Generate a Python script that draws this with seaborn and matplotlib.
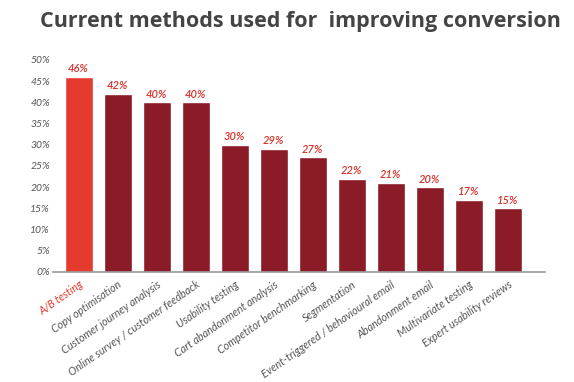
import matplotlib
matplotlib.use("Agg")
import matplotlib.pyplot as plt
import seaborn as sns
import pandas as pd

categories = ["A/B testing", "Copy optimisation", "Customer journey analysis",
              "Online survey / customer feedback", "Usability testing",
              "Cart abandonment analysis", "Competitor benchmarking", "Segmentation",
              "Event-triggered / behavioural email", "Abandonment email",
              "Multivariate testing", "Expert usability reviews"]
values = [46, 42, 40, 40, 30, 29, 27, 22, 21, 20, 17, 15]
ytick_values = [0, 5, 10, 15, 20, 25, 30, 35, 40, 45, 50]

sns.set_style("white")
plt.rcParams['font.family'] = ['Lato', 'DejaVu Sans']

df = pd.DataFrame({"method": categories, "pct": values})
bright = "#E53A2E"
dark = "#8A1B27"
palette = [bright] + [dark] * (len(categories) - 1)

fig = plt.figure(figsize=(5.74, 3.82), dpi=100)
ax = fig.add_axes([0.092, 0.288, 0.857, 0.555])
sns.barplot(data=df, x="method", y="pct", hue="method", palette=palette,
            legend=False, width=0.72, ax=ax, saturation=1)
ax.set_xlim(-0.66, 11.95)
ax.set_ylim(0, 50)
ax.set_yticks(ytick_values)
ax.set_yticklabels([f"{v}%" for v in ytick_values], fontsize=7.5, color="#555555", style="italic")
ax.tick_params(axis="y", length=0, pad=2)
ax.tick_params(axis="x", length=0, pad=5)
ax.set_xlabel("")
ax.set_ylabel("")
for s in ["top", "right", "left"]:
    ax.spines[s].set_visible(False)
ax.spines["bottom"].set_color("#999999")
ax.spines["bottom"].set_linewidth(1.2)

ax.set_xticks(range(len(categories)))
ax.set_xticklabels(categories, rotation=35, ha="right", rotation_mode="anchor",
                   fontsize=7.8, color="#555555", style="italic")
ax.get_xticklabels()[0].set_color(bright)

for i, v in enumerate(values):
    ax.text(i, v + 0.6, f"{v}%", ha="center", va="bottom", fontsize=8,
            color="#D9302A", style="italic", fontweight="semibold", clip_on=False)

fig.text(0.07, 0.945, "Current methods used for  improving conversion",
         fontsize=15.5, fontweight="bold", color="#444444", family="Open Sans",
         ha="left", va="center")

fig.savefig("out.png", dpi=100, facecolor="white")
